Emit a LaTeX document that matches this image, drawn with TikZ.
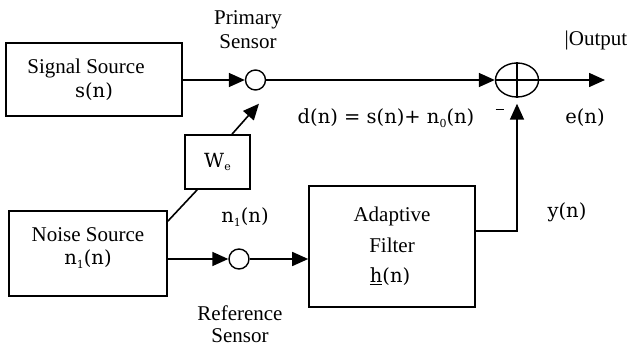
\documentclass[tikz,border=0pt]{standalone}
\usepackage{fontspec}
\setmainfont{Liberation Serif}
\newfontfamily\mfont{DejaVu Serif}
\usetikzlibrary{arrows.meta,shapes.geometric}
\newcommand{\mt}[1]{{\mfont\fontsize{19.5}{22}\selectfont #1}}
\newcommand{\sbs}[1]{\raisebox{-3.5pt}{\fontsize{11}{12}\selectfont #1}}
\tikzset{
  x=1pt,y=-1pt,
  every node/.style={font=\fontsize{21}{24}\selectfont},
  blk/.style={draw,line width=1.6pt,rectangle,inner sep=0pt,align=center},
  sens/.style={draw,line width=1.4pt,circle,inner sep=0pt,minimum size=20pt},
  ln/.style={line width=1.6pt},
  arr/.style={ln,-{Triangle[length=16pt,width=14pt]}},
  lbl/.style={align=center,inner sep=0pt}
}
\begin{document}
\begin{tikzpicture}
\useasboundingbox (0,0) rectangle (630,347);
% blocks
\node[blk,minimum width=176pt,minimum height=73pt] (sig) at (94,79.5) {};
\node[lbl] (sigt) at (86,68) {Signal Source};
\node[lbl] (sigm) at (94,92) {\mt{s(n)}};
\node[blk,minimum width=158pt,minimum height=85pt] (noise) at (88,253.5) {};
\node[lbl] (noiset) at (88,235) {Noise Source};
\node[lbl] (noisem) at (88,259) {\mt{n\sbs{1}(n)}};
\node[blk,minimum width=65pt,minimum height=54pt] (We) at (217.5,162) {\mt{W\sbs{e}}};
\node[blk,minimum width=166pt,minimum height=121pt] (filt) at (392,246.5) {};
\node[lbl] (filtt) at (392,216) {Adaptive};
\node[lbl] (filtf) at (392,245) {Filter};
\node[lbl] (filtm) at (390,277) {\mt{\underline{h}(n)}};
% sensors
\node[sens] (prim) at (255.5,80) {};
\node[sens] (ref) at (239,259) {};
\node[draw,line width=1.4pt,ellipse,minimum width=43pt,minimum height=34pt,inner sep=0pt] (sum) at (517,80) {};
\draw[line width=1.4pt] (sum.north) -- (sum.south) (sum.west) -- (sum.east);
\coordinate (out) at (605,80);
\coordinate (corner) at (517,231);
% connectors
\draw[arr] (sig.east |- prim) -- (prim.west);
\draw[arr] (prim.east) -- (sum.west);
\draw[arr] (sum.east) -- (out);
\draw[arr] (noise.east |- ref) -- (ref.west);
\draw[arr] (ref.east) -- (filt.west |- ref);
\draw[ln] ([yshift=-11pt]noise.north east) -- ([xshift=13pt]We.south west);
\draw[arr] ([xshift=14.5pt]We.north) -- ([shift={(3.5pt,-13pt)}]prim.south);
\draw[arr] (filt.east |- corner) -- (corner) -- ([yshift=-6pt]sum.south);
% labels
\node[lbl] (plab) at (248,30) {Primary\\Sensor};
\node[lbl] (rlab) at (240,324) {Reference\\[-2pt]Sensor};
\node[lbl] (olab) at (596,40) {|Output};
\draw[line width=1pt] (495.5,110) -- (504,110);
\node[lbl] (dlab) at (386,118) {\mt{d(n) = s(n)+ n\sbs{0}(n)}};
\node[lbl] (elab) at (585,118) {\mt{e(n)}};
\node[lbl] (ylab) at (567,212) {\mt{y(n)}};
\node[lbl] (nlab) at (245,217) {\mt{n\sbs{1}(n)}};
\end{tikzpicture}
\end{document}
